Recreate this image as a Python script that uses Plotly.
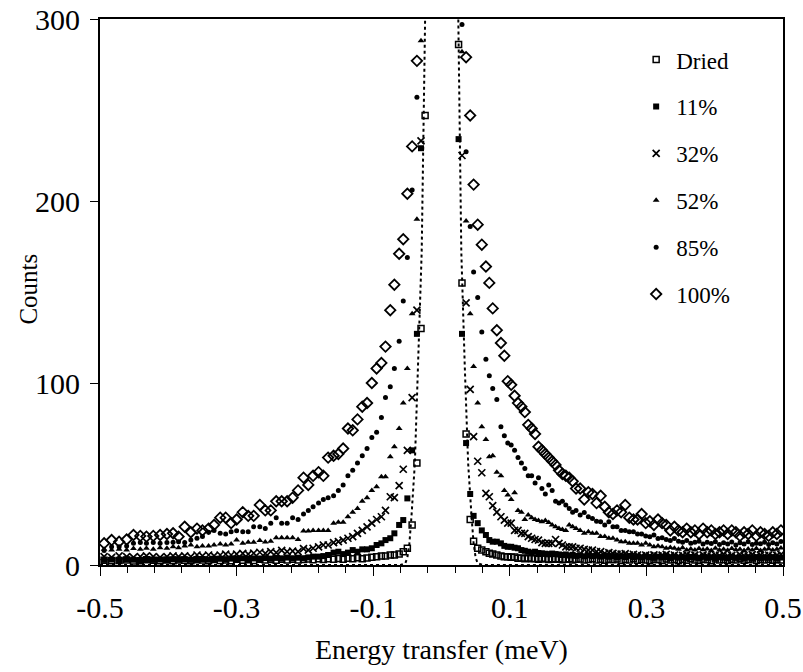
import plotly.graph_objects as go

# Energy bins (meV), listed from the elastic peak outwards
x_left = [-0.024, -0.030, -0.036, -0.043, -0.050, -0.056, -0.062, -0.069, -0.075, -0.082,
          -0.088, -0.095, -0.102, -0.109, -0.116, -0.123, -0.130, -0.137, -0.144, -0.151,
          -0.158, -0.166, -0.173, -0.180, -0.188, -0.195, -0.202, -0.210, -0.218, -0.226,
          -0.234, -0.242, -0.250, -0.258, -0.266, -0.275, -0.283, -0.291, -0.300, -0.308,
          -0.316, -0.324, -0.333, -0.341, -0.350, -0.358, -0.367, -0.376, -0.385, -0.393,
          -0.402, -0.412, -0.422, -0.432, -0.441, -0.451, -0.461, -0.472, -0.483, -0.494]
x_right = [0.025, 0.030, 0.036, 0.042, 0.047, 0.053, 0.059, 0.065, 0.070, 0.075,
           0.081, 0.087, 0.092, 0.097, 0.102, 0.107, 0.112, 0.117, 0.122, 0.127,
           0.132, 0.137, 0.142, 0.147, 0.152, 0.157, 0.162, 0.167, 0.172, 0.177,
           0.182, 0.187, 0.192, 0.197, 0.203, 0.209, 0.215, 0.221, 0.227, 0.233,
           0.239, 0.245, 0.251, 0.257, 0.263, 0.269, 0.275, 0.281, 0.287, 0.293,
           0.299, 0.305, 0.311, 0.317, 0.323, 0.329, 0.335, 0.341, 0.347, 0.353,
           0.359, 0.365, 0.371, 0.377, 0.383, 0.389, 0.395, 0.401, 0.407, 0.413,
           0.419, 0.425, 0.431, 0.437, 0.443, 0.449, 0.455, 0.461, 0.467, 0.473,
           0.479, 0.485, 0.491, 0.497]

series_names = ["Dried", "11%", "32%", "52%", "85%", "100%"]

dried_left = [247, 130, 56, 22, 9.2, 7.3, 6, 5.5, 5.5, 4.9,
              4.9, 4.6, 4.2, 3.8, 3.5, 4.0, 3.4, 3.7, 3.2, 3.6,
              3.1, 3.5, 3.0, 3.4, 2.9, 3.3, 3.0, 2.7, 3.2, 2.8,
              3.1, 2.6, 3.0, 2.7, 3.2, 2.5, 2.9, 2.6, 3.1, 2.4,
              2.8, 2.5, 3.0, 2.4, 2.7, 2.9, 2.3, 2.6, 2.8, 2.4,
              2.7, 2.3, 2.6, 2.9, 2.4, 2.2, 2.7, 2.5, 2.3, 2.6]
dried_right = [286, 155, 72, 25, 13, 9.2, 8.2, 7.3, 6.4, 6,
               5.5, 4.9, 4.6, 4.6, 4.2, 4.4, 3.7, 3.9, 3.5, 3.8,
               3.4, 3.6, 3.2, 3.7, 3.3, 3.0, 3.5, 3.1, 3.4, 2.9,
               3.2, 3.5, 2.8, 3.1, 3.3, 2.7, 3.0, 3.4, 2.8, 3.1,
               2.6, 3.2, 2.9, 3.3, 2.5, 3.0, 2.7, 3.4, 2.6, 3.1,
               2.8, 2.4, 3.2, 2.9, 2.5, 3.3, 2.7, 3.0, 2.4, 3.1,
               2.6, 3.4, 2.8, 2.5, 3.2, 2.9, 2.4, 3.3, 2.7, 3.0,
               2.5, 3.1, 2.8, 3.4, 2.6, 2.9, 3.3, 2.5, 3.0, 2.8,
               3.2, 2.6, 3.0, 2.7]

rh11_left = [None, 229, 127, 63, 36.6, 24.7, 22, 17.4, 14.7, 13.7,
             11.9, 11, 9.2, 8.6, 8.6, 7.3, 8.2, 6.8, 6.0, 7.3,
             6.8, 5.5, 4.9, 4.6, 4.6, 4.2, 3.7, 4.0, 3.6, 4.1,
             3.5, 3.9, 3.4, 3.8, 3.3, 3.6, 3.2, 3.7, 3.1, 3.5,
             3.0, 3.4, 3.1, 2.9, 3.3, 3.0, 2.8, 3.2, 2.9, 3.1,
             2.7, 3.0, 2.8, 3.2, 2.6, 2.9, 3.1, 2.7, 3.0, 2.8]
rh11_right = [234, 127, 67, 39, 27, 23, 19, 16.5, 13.7, 12.8,
              12.8, 11.9, 10.5, 10, 10, 9.5, 9.2, 8.2, 7.8, 7.3,
              6.8, 7.3, 6.6, 6.4, 6.2, 6.0, 6.3, 6.0, 5.8, 5.5,
              5.8, 5.2, 5.6, 5.0, 5.4, 4.8, 5.3, 4.9, 5.1, 4.6,
              5.0, 4.5, 4.9, 4.3, 4.8, 4.4, 5.0, 4.2, 4.6, 4.1,
              4.7, 4.3, 3.9, 4.6, 4.2, 4.4, 3.8, 4.5, 4.0, 4.3,
              3.7, 4.4, 4.1, 3.8, 4.5, 3.9, 4.2, 3.6, 4.3, 4.0,
              3.7, 4.4, 3.9, 4.1, 3.6, 4.2, 3.8, 4.3, 3.7, 4.0,
              3.9, 4.3, 3.6, 4.1]

rh32_left = [None, 233, 140, 92, 63, 52.6, 43.6, 37, 37.5, 30,
             26.5, 25, 23, 21, 19, 17.4, 15.6, 14.7, 13.7, 12.8,
             12.3, 11, 11, 10, 9.2, 8.2, 9.0, 7.3, 7.6, 7.3,
             8.0, 6.8, 7.3, 6.4, 7.0, 6.5, 6.0, 6.4, 6.0, 5.5,
             6.0, 5.5, 5.0, 5.5, 5.0, 5.5, 4.6, 5.0, 4.6, 5.0,
             4.6, 4.2, 4.6, 5.0, 4.6, 4.2, 4.6, 5.0, 4.2, 4.6]
rh32_right = [None, 225, 144, 96.5, 70.5, 57, 50.7, 39.4, 37.5, 32.6,
              29, 26.5, 24.7, 23, 23, 19, 19, 17.4, 17.4, 15.6,
              14.7, 14, 13.7, 12.3, 11.9, 11.9, 11.9, 14, 11.9, 11,
              10, 10, 10, 9.2, 9.2, 8.6, 8.2, 8.2, 7.3, 7.3,
              6.4, 6.8, 6.4, 6.0, 6.0, 6.2, 5.5, 5.8, 5.5, 5.0,
              5.5, 5.2, 5.6, 5.0, 5.4, 5.8, 5.1, 5.5, 4.9, 5.3,
              5.7, 5.0, 5.4, 4.8, 5.6, 5.2, 4.9, 5.5, 5.1, 5.8,
              5.0, 5.3, 4.8, 5.6, 5.2, 5.0, 5.7, 4.9, 5.4, 5.1,
              5.5, 4.9, 5.3, 5.8]

rh52_left = [None, 288, 190, 138, 108, 89, 75, 65, 59.5, 48.5,
             48.5, 43, 41, 37, 35, 31, 29, 26.5, 23.5, 23.5,
             23, 19, 19, 19, 19, 18.7, 18.7, 14, 15, 15,
             15, 15, 13, 12.6, 13.5, 12.5, 12.5, 11.9, 13.7, 11.5,
             11, 11.5, 11, 10.4, 10.4, 10, 11, 10.4, 9.5, 10,
             9.2, 9.5, 8.6, 9.2, 8.6, 9, 8.2, 8.6, 8.2, 8.6]
rh52_right = [None, 282, 189, 138, 109, 89, 76, 69, 59.5, 60,
              51, 49, 41, 38.5, 36, 39.7, 30, 29, 25, 27.5,
              26, 25, 24.4, 23.8, 24.4, 23.3, 22, 21, 20, 19.5,
              19, 22, 21, 20, 19, 17.4, 18.3, 17.4, 17.4, 15.6,
              15.6, 14.7, 14.7, 13.7, 12.8, 12.8, 11.9, 11.9, 11.9, 11,
              11.9, 11, 10, 10.5, 10, 9.2, 9.6, 9.2, 8.6, 9.5,
              8.2, 8.8, 8.2, 9.0, 8.4, 8.8, 8.0, 9.2, 8.3, 8.7,
              8.1, 9.0, 8.4, 8.7, 7.9, 8.8, 8.3, 9.1, 8.0, 8.6,
              8.9, 8.2, 8.7, 9.3]

rh85_left = [None, None, 257, 206, 169, 145, 123, 108, 98, 92,
             81, 73, 70, 64, 60, 56, 52, 49, 44, 41,
             38, 37, 36, 34, 32, 30, 28, 25, 26, 23,
             23, 26, 23, 20, 21, 21, 18.3, 18.3, 18.8, 18.3,
             17, 17.4, 19, 18, 15.6, 14.7, 13.7, 12.3, 12.8, 12.5,
             12.3, 11.9, 12.3, 11.9, 12.3, 11.9, 10.4, 10, 10, 8]
rh85_right = [None, 297, 227, 186, 161, 147, 128, 113, 104, 97,
              91, 76, 71, 67, 66, 63, 59, 56, 53, 49,
              49, 45, 48, 42, 39, 44, 41, 35, 34, 35,
              33, 31, 29, 30, 27.5, 28.8, 26.5, 25.6, 24, 23.8,
              22, 23.8, 21, 21, 19, 19, 18.3, 18.3, 17, 17,
              16, 15.5, 16.5, 14.5, 15, 14, 13.5, 14.5, 13, 12.5,
              13.5, 12, 12.5, 13, 11.5, 12.5, 11.8, 12.8, 11.2, 12.2,
              11.6, 12.6, 11, 12.2, 11.5, 12.8, 11.2, 12, 11.7, 12.5,
              11.3, 12.2, 11.6, 12.9]

rh100_left = [None, None, 277, 230, 204, 179, 171, 154, 140, 120,
              111, 108, 100, 89, 87, 80, 74, 75, 64, 61,
              60, 59, 49, 51, 49, 44, 48, 41, 37, 35,
              35, 35, 30, 30, 33, 27, 27, 29, 25, 23,
              26, 26, 22, 20, 19, 20, 18, 21, 15.6, 17.4,
              17, 16.5, 16, 15.6, 16, 16.5, 14, 12.8, 13.7, 11.9]
rh100_right = [None, None, 279, 247, 209, 187, 176, 164, 155, 141,
               129, 122, 115, 101, 99, 93, 89, 87, 84, 77,
               75, 72, 65, 63, 61, 59, 57, 55, 52, 50,
               49, 48, 46, 42, 42, 36, 40, 39, 34, 38,
               32, 29, 28, 30, 29, 33, 26, 25, 25, 28,
               23, 24, 22, 25, 23, 22, 19, 21, 19, 18,
               20, 18, 19, 17, 20, 18, 19, 17, 18, 19,
               17, 19, 18, 16, 18, 17, 19, 16, 18, 17,
               16, 18, 17, 19]

# Resolution / fit curve (dotted)
fit_x = [-0.5, -0.060, -0.053, -0.050, -0.047, -0.044, -0.039, -0.034, -0.029, -0.024,
         -0.020, -0.015, 0.0, 0.015, 0.020, 0.024, 0.029, 0.034, 0.039, 0.044,
         0.047, 0.050, 0.053, 0.060, 0.5]
fit_y = [0, 0, 1, 4, 12, 26.5, 56, 110, 172, 300,
         430, 580, 760, 580, 430, 300, 172, 110, 56, 26.5,
         12, 4, 1, 0, 0]

x_ticks = [-0.5, -0.3, -0.1, 0.1, 0.3, 0.5]
x_ticktext = ["-0.5", "-0.3", "-0.1", "0.1", "0.3", "0.5"]
y_ticks = [0, 100, 200, 300]

left_vals = [dried_left, rh11_left, rh32_left, rh52_left, rh85_left, rh100_left]
right_vals = [dried_right, rh11_right, rh32_right, rh52_right, rh85_right, rh100_right]
styles = [
    dict(symbol="square-open", size=6, line=dict(width=1.5, color="black")),
    dict(symbol="square", size=6),
    dict(symbol="x-thin-open", size=7, line=dict(width=1.7, color="black")),
    dict(symbol="triangle-up", size=6),
    dict(symbol="circle", size=5),
    dict(symbol="diamond-open", size=8, line=dict(width=1.8, color="black")),
]

FONT = "Liberation Serif"
fig = go.Figure()
fig.add_trace(go.Scatter(x=fit_x, y=fit_y, mode="lines",
                         line=dict(color="black", width=2, dash="dot"),
                         showlegend=False, hoverinfo="skip"))
for name, lv, rv, st in zip(series_names, left_vals, right_vals, styles):
    fig.add_trace(go.Scatter(
        x=x_left + x_right, y=lv + rv, mode="markers", name=name,
        legendgroup=name,
        marker=dict(color="black", **st),
    ))

fig.update_layout(
    width=803, height=672,
    margin=dict(l=100, r=20, t=19, b=107),
    paper_bgcolor="white", plot_bgcolor="white",
    font=dict(family=FONT, color="black", size=24),
    legend=dict(x=0.785, y=0.965, xanchor="left", yanchor="top",
                bgcolor="rgba(0,0,0,0)", font=dict(size=23, family=FONT),
                tracegroupgap=14, itemwidth=30),
    xaxis=dict(range=[-0.5, 0.5], tickmode="array", tickvals=x_ticks, ticktext=x_ticktext,
               ticks="outside", ticklen=9, tickwidth=1, tickcolor="black",
               minor=dict(tickmode="linear", tick0=-0.5, dtick=0.04, ticks="outside",
                          ticklen=6, tickwidth=1, tickcolor="black"),
               showline=True, linewidth=2, linecolor="black", mirror=True,
               showgrid=False, zeroline=False, ticklabelstandoff=6, automargin=False,
               tickfont=dict(size=30, family=FONT)),
    yaxis=dict(range=[0, 300], tickmode="array", tickvals=y_ticks,
               ticks="outside", ticklen=8, tickwidth=1, tickcolor="black",
               showline=True, linewidth=2, linecolor="black", mirror=True,
               showgrid=False, zeroline=False, ticklabelstandoff=4, automargin=False,
               tickfont=dict(size=30, family=FONT)),
    annotations=[
        dict(text="Energy transfer (meV)", x=0.5, y=-0.155, xref="paper", yref="paper",
             xanchor="center", yanchor="middle", showarrow=False,
             font=dict(size=28, family=FONT)),
        dict(text="Counts", x=-0.105, y=0.505, xref="paper", yref="paper",
             xanchor="center", yanchor="middle", textangle=-90, showarrow=False,
             font=dict(size=25, family=FONT)),
    ],
)

fig.write_html("out.html")
